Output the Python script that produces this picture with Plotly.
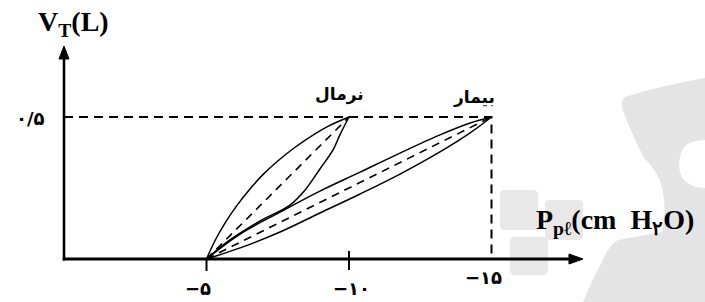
import plotly.graph_objects as go

# ---------------- data ----------------
# Normal lung loop (P_pl in cm H2O, V_T in L)
normal_insp_p = [-5.0, -5.31, -5.67, -6.07, -6.51, -6.98, -7.50, -8.05, -8.64, -9.26, -10.0]
normal_insp_v = [0.0, 0.067, 0.130, 0.189, 0.245, 0.297, 0.345, 0.389, 0.430, 0.467, 0.5]
normal_exp_p = [-5.0, -5.82, -6.88, -7.93, -8.46, -8.98, -9.44, -9.68, -10.0]
normal_exp_v = [0.0, 0.067, 0.134, 0.190, 0.243, 0.317, 0.384, 0.437, 0.5]
normal_comp_p = [-5.0, -10.0]
normal_comp_v = [0.0, 0.5]

# Diseased lung loop
sick_insp_p = [-5.0, -6.18, -7.58, -8.98, -10.39, -11.79, -13.19, -14.25, -15.0]
sick_insp_v = [0.0, 0.088, 0.165, 0.239, 0.306, 0.373, 0.437, 0.479, 0.5]
sick_exp_p = [-5.0, -6.18, -7.58, -8.98, -10.39, -11.79, -13.19, -14.25, -15.0]
sick_exp_v = [0.0, 0.039, 0.095, 0.162, 0.229, 0.299, 0.377, 0.444, 0.5]
sick_comp_p = [-5.0, -15.0]
sick_comp_v = [0.0, 0.5]

x_tick_vals = [-5, -10, -15]
x_tick_text = ["−۵", "−۱۰", "−۱۵"]
y_tick_vals = [0.5]
y_tick_text = ["۰/۵"]
peak_labels = ["نرمال", "بیمار"]
peak_p = [-10, -15]
peak_v = [0.5, 0.5]

y_title = "<b>V<sub>T</sub>(L)</b>"
x_title = "<b>P<sub>pℓ</sub>(cm  H<sub>۲</sub>O)</b>"

# ---------------- figure ----------------
W, H = 705, 302
PX_PER_P = 28.5      # pixels per cm H2O
PX_PER_V = 284.0     # pixels per litre
ORIGIN_X, ORIGIN_Y = 64, 259

x_left = ORIGIN_X / PX_PER_P
x_right = -(W - ORIGIN_X) / PX_PER_P
y_top = ORIGIN_Y / PX_PER_V
y_bot = -(H - ORIGIN_Y) / PX_PER_V

fig = go.Figure()

solid = dict(color="black", width=1.5, shape="spline", smoothing=1.0)
dashed = dict(color="black", width=1.6, dash="8px,6px")

for px_, vy_ in [(normal_insp_p, normal_insp_v), (normal_exp_p, normal_exp_v),
                 (sick_insp_p, sick_insp_v), (sick_exp_p, sick_exp_v)]:
    fig.add_trace(go.Scatter(x=px_, y=vy_, mode="lines", line=solid, hoverinfo="skip"))
for px_, vy_ in [(normal_comp_p, normal_comp_v), (sick_comp_p, sick_comp_v)]:
    fig.add_trace(go.Scatter(x=px_, y=vy_, mode="lines", line=dashed, hoverinfo="skip"))

# guide dashed lines to the 0.5 L level
fig.add_trace(go.Scatter(x=[0, sick_comp_p[-1], sick_comp_p[-1]],
                         y=[sick_comp_v[-1], sick_comp_v[-1], 0],
                         mode="lines", line=dict(color="black", width=2, dash="9px,6px"),
                         hoverinfo="skip"))


def pp(x, y):
    return x / W, 1 - y / H


def to_paper_path(path):
    out = []
    for tok in path.split():
        if "," in tok:
            a, b = tok.split(",")
            X, Y = pp(float(a), float(b))
            out.append(f"{X:.5f},{Y:.5f}")
        else:
            out.append(tok)
    return " ".join(out)


def rounded_rect(x0, y0, x1, y1, r=5):
    return (f"M {x0+r},{y0} L {x1-r},{y0} Q {x1},{y0} {x1},{y0+r} L {x1},{y1-r} "
            f"Q {x1},{y1} {x1-r},{y1} L {x0+r},{y1} Q {x0},{y1} {x0},{y1-r} "
            f"L {x0},{y0+r} Q {x0},{y0} {x0+r},{y0} Z")


shapes = []
# watermark (decorative light grey shapes)
for (x0, y0, x1, y1) in [(500, 190, 538, 230), (545, 200, 583, 240), (510, 237, 548, 275)]:
    shapes.append(dict(type="path", xref="paper", yref="paper", layer="below",
                       path=to_paper_path(rounded_rect(x0, y0, x1, y1)),
                       fillcolor="#e8e8e8", line=dict(width=0)))
big = ("M 628,96 Q 660,86 705,78 L 705,140 Q 688,140 682,150 Q 676,165 682,178 "
       "Q 690,188 705,188 L 705,302 L 583,302 Q 592,280 602,262 Q 608,246 618,240 "
       "Q 640,236 662,232 Q 668,205 660,180 Q 652,165 644,158 Q 630,130 622,108 Q 620,98 628,96 Z")
shapes.append(dict(type="path", xref="paper", yref="paper", layer="below",
                   path=to_paper_path(big), fillcolor="#e4e4e4", line=dict(width=0)))

# axes (lines + arrow heads)
y_tip = (ORIGIN_Y - 46) / PX_PER_V
x_tip = -(583 - ORIGIN_X) / PX_PER_P
shapes.append(dict(type="line", xref="x", yref="y", x0=0, x1=0, y0=-1.5 / PX_PER_V, y1=y_tip - 8 / PX_PER_V,
                   line=dict(color="black", width=2.6)))
shapes.append(dict(type="line", xref="x", yref="y", x0=1.3 / PX_PER_P, x1=x_tip + 8 / PX_PER_P, y0=0, y1=0,
                   line=dict(color="black", width=3)))
shapes.append(dict(type="path", xref="paper", yref="paper",
                   path=to_paper_path(f"M {ORIGIN_X},46 L {ORIGIN_X+5},59 L {ORIGIN_X-5},59 Z"),
                   fillcolor="black", line=dict(color="black", width=1)))
shapes.append(dict(type="path", xref="paper", yref="paper",
                   path=to_paper_path(f"M 583,{ORIGIN_Y} L 569,{ORIGIN_Y-5} L 569,{ORIGIN_Y+5} Z"),
                   fillcolor="black", line=dict(color="black", width=1)))

# tick marks
shapes.append(dict(type="line", xref="x", yref="y", x0=x_tick_vals[0], x1=x_tick_vals[0],
                   y0=0, y1=-12 / PX_PER_V, line=dict(color="black", width=2)))
shapes.append(dict(type="line", xref="x", yref="y", x0=x_tick_vals[1], x1=x_tick_vals[1],
                   y0=8 / PX_PER_V, y1=-11 / PX_PER_V, line=dict(color="black", width=2)))
shapes.append(dict(type="line", xref="x", yref="y", x0=0, x1=-8 / PX_PER_P,
                   y0=y_tick_vals[0], y1=y_tick_vals[0], line=dict(color="black", width=2)))

annotations = []
tick_font = dict(family="DejaVu Sans", size=18, color="black")
x_shift = [-9, 2, -8]
y_pos = [-29, -29, -18]
for v, t, xs, yp in zip(x_tick_vals, x_tick_text, x_shift, y_pos):
    annotations.append(dict(x=v, y=yp / PX_PER_V, xref="x", yref="y", text=f"<b>{t}</b>",
                            showarrow=False, xshift=xs, font=tick_font))
for v, t in zip(y_tick_vals, y_tick_text):
    annotations.append(dict(x=0, y=v, xref="x", yref="y", text=f"<b>{t}</b>", showarrow=False,
                            xshift=-34, yshift=-1, font=tick_font))

lab_font = dict(family="DejaVu Sans", size=17, color="black")
lab_shift = [(-10, 23), (-18, 20)]
for t, p, v, (xs, ys) in zip(peak_labels, peak_p, peak_v, lab_shift):
    annotations.append(dict(x=p, y=v, xref="x", yref="y", text=f"<b>{t}</b>", showarrow=False,
                            xshift=xs, yshift=ys, font=lab_font))

annotations.append(dict(x=73 / W, y=1 - 24 / H, xref="paper", yref="paper", text=y_title,
                        showarrow=False, font=dict(family="Liberation Serif", size=28, color="black"),
                        xanchor="center", yanchor="middle"))
annotations.append(dict(x=534 / W, y=1 - 221 / H, xref="paper", yref="paper", text=x_title,
                        showarrow=False, font=dict(family="Liberation Serif", size=28, color="black"),
                        xanchor="left", yanchor="middle"))

fig.update_layout(
    width=W, height=H,
    margin=dict(l=0, r=0, t=0, b=0),
    paper_bgcolor="white", plot_bgcolor="rgba(0,0,0,0)",
    showlegend=False,
    xaxis=dict(range=[x_left, x_right], visible=False, fixedrange=True),
    yaxis=dict(range=[y_bot, y_top], visible=False, fixedrange=True),
    shapes=shapes, annotations=annotations,
)

fig.write_html("out.html", config={"displayModeBar": False},
               post_script="document.body.style.margin='0';document.body.style.overflow='hidden';")
